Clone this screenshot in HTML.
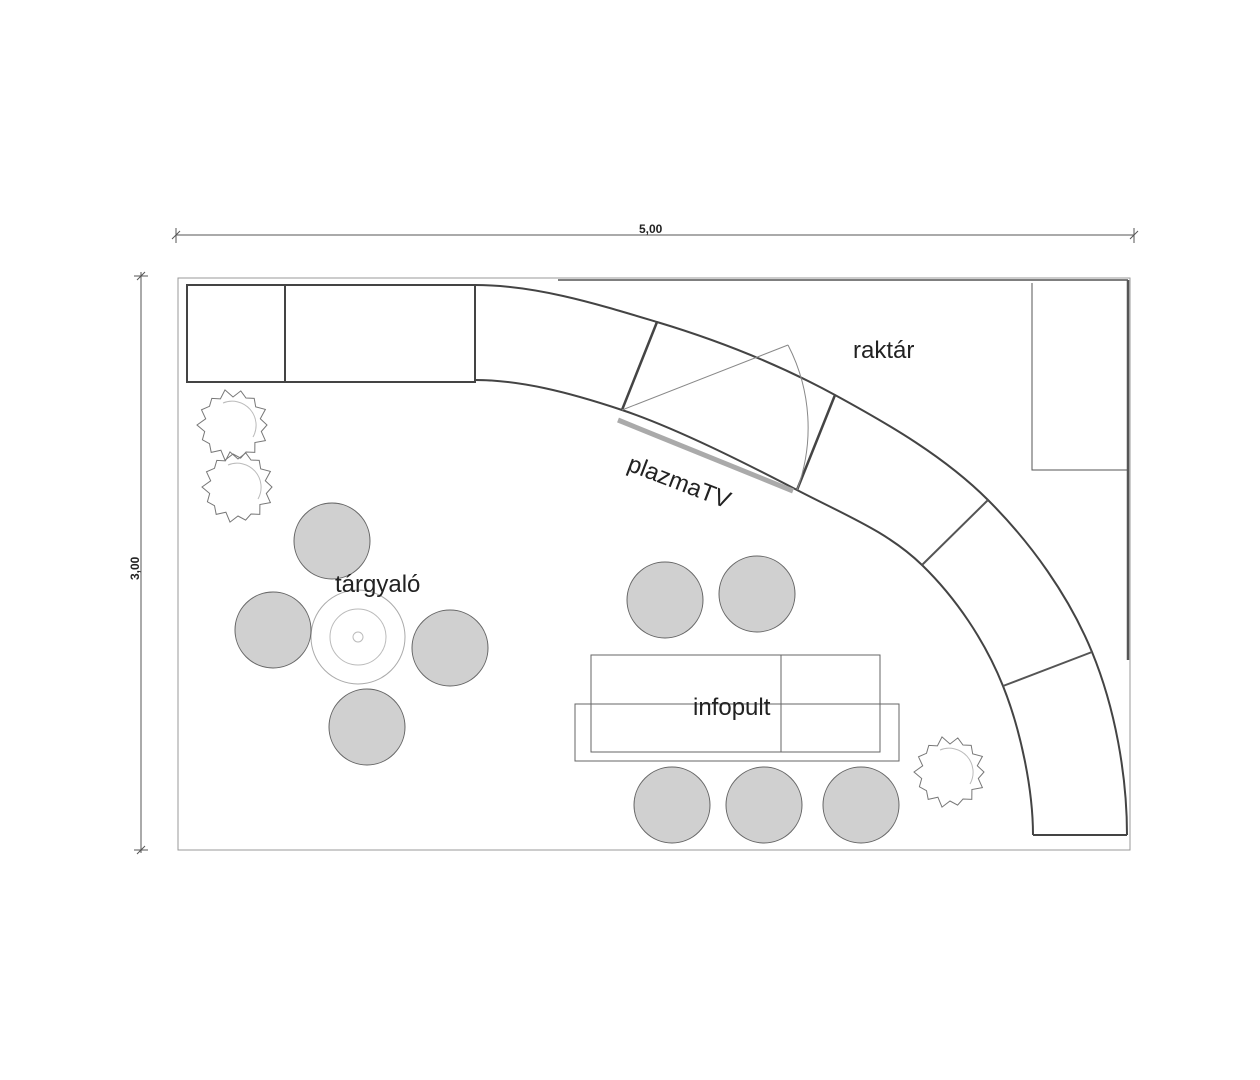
<!DOCTYPE html>
<html><head><style>body{margin:0;background:#fff}svg{display:block}</style></head><body>
<svg id="s" width="1260" height="1080" viewBox="0 0 1260 1080" xmlns="http://www.w3.org/2000/svg" font-family="Liberation Sans, sans-serif">
<g stroke="#555" stroke-width="1" fill="none">
<line x1="176" y1="235" x2="1134" y2="235"/>
<line x1="172" y1="239" x2="180" y2="231"/><line x1="1130" y1="239" x2="1138" y2="231"/>
<line x1="176" y1="228" x2="176" y2="243"/><line x1="1134" y1="228" x2="1134" y2="243"/>
<line x1="141" y1="272" x2="141" y2="853"/>
<line x1="134" y1="276" x2="148" y2="276"/><line x1="134" y1="850" x2="148" y2="850"/>
<line x1="137" y1="280" x2="145" y2="272"/><line x1="137" y1="854" x2="145" y2="846"/>
<rect x="178" y="278" width="952" height="572" stroke="#999"/>
<line x1="558" y1="280" x2="1128" y2="280" stroke="#555" stroke-width="1.5"/>
<line x1="1128" y1="280" x2="1128" y2="660" stroke="#555" stroke-width="2.5"/>
<polyline points="1032,283 1032,470 1128,470" stroke="#555"/>
<rect x="187" y="285" width="288" height="97" stroke="#444" stroke-width="2"/>
<line x1="285" y1="285" x2="285" y2="382" stroke="#444" stroke-width="2"/>
<path d="M475 285 C536 285 597 304 657 322 C717 340 780 365 835 395 C890 425 945 457 988 500 C1031 543 1069 596 1092 652 C1115 708 1127 775 1127 835" stroke="#444" stroke-width="2"/>
<path d="M475 380 C520 380 568 392 622 410 C676 428 747 464 797 490 C847 516 888 532 922 565 C956 598 985 641 1003 686 C1021 731 1033 790 1033 835" stroke="#444" stroke-width="2"/>
<line x1="1033" y1="835" x2="1127" y2="835" stroke="#444" stroke-width="2"/>
<line x1="657" y1="322" x2="622" y2="410" stroke="#444" stroke-width="2.5"/>
<line x1="835" y1="395" x2="797" y2="490" stroke="#444" stroke-width="2.5"/>
<line x1="988" y1="500" x2="922" y2="565" stroke="#555" stroke-width="2"/>
<line x1="1092" y1="652" x2="1003" y2="686" stroke="#555" stroke-width="2"/>
<line x1="622" y1="410" x2="788" y2="345" stroke="#888"/>
<path d="M788 345 A180 180 0 0 1 797 490" stroke="#888"/>
<line x1="618" y1="420" x2="793" y2="491" stroke="#aaa" stroke-width="5"/>
<rect x="591" y="655" width="289" height="97" stroke="#666"/>
<line x1="781" y1="655" x2="781" y2="752" stroke="#666"/>
<rect x="575" y="704" width="324" height="57" stroke="#666"/>
<circle cx="358" cy="637" r="47" stroke="#aaa"/>
<circle cx="358" cy="637" r="28" stroke="#bbb"/>
<circle cx="358" cy="637" r="5" stroke="#bbb"/>
<g id="plants" stroke="#777"></g>
</g>
<g fill="#d0d0d0" stroke="#666">
<circle cx="332" cy="541" r="38"/><circle cx="273" cy="630" r="38"/>
<circle cx="450" cy="648" r="38"/><circle cx="367" cy="727" r="38"/>
<circle cx="665" cy="600" r="38"/><circle cx="757" cy="594" r="38"/>
<circle cx="672" cy="805" r="38"/><circle cx="764" cy="805" r="38"/><circle cx="861" cy="805" r="38"/>
</g>
<g fill="#222" font-size="24">
<text x="853" y="358">raktár</text>
<text x="335" y="592">tárgyaló</text>
<text x="693" y="715">infopult</text>
<text x="0" y="0" transform="translate(626,470) rotate(21)">plazmaTV</text>
</g>
<text x="639" y="233" font-size="12" font-weight="bold" fill="#222">5,00</text>
<text x="0" y="0" font-size="12" font-weight="bold" fill="#222" transform="translate(139,580) rotate(-90)">3,00</text>
</svg>
<script>
var g=document.getElementById('plants'),ns='http://www.w3.org/2000/svg';
[[233,425],[238,487],[950,772]].forEach(function(c){
 var p=[],n=28;for(var i=0;i<n;i++){var a=i/n*2*Math.PI,r=(i%2?28:34)+((i*7)%3);p.push((c[0]+r*Math.cos(a)).toFixed(1)+','+(c[1]+r*Math.sin(a)).toFixed(1));}
 var e=document.createElementNS(ns,'polygon');e.setAttribute('points',p.join(' '));g.appendChild(e);
 var a=document.createElementNS(ns,'path');a.setAttribute('d','M'+(c[0]-10)+' '+(c[1]-22)+' A24 24 0 0 1 '+(c[0]+20)+' '+(c[1]+12));a.setAttribute('stroke','#bbb');g.appendChild(a);
});
</script>
</body></html>
